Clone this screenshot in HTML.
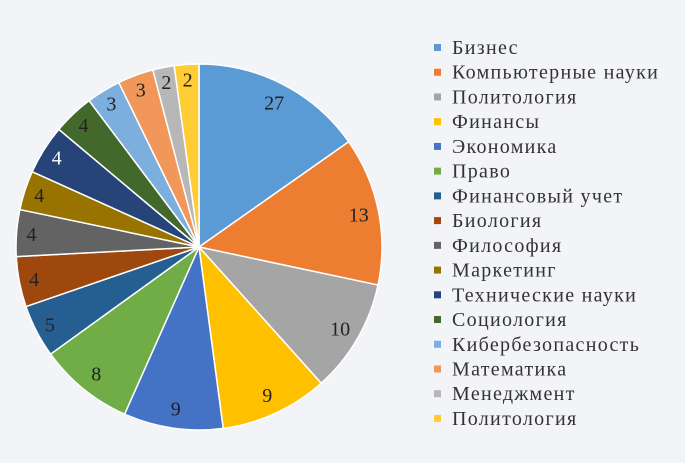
<!DOCTYPE html>
<html><head><meta charset="utf-8"><style>
body{margin:0;background:#f3f4f8;width:685px;height:458px;overflow:hidden;font-family:"Liberation Serif",serif}
</style></head><body>
<svg width="685" height="458">
<g id="pie"></g><g id="legend"></g>
</svg>
<script>
const categories=["Бизнес","Компьютерные науки","Политология","Финансы","Экономика","Право","Финансовый учет","Биология","Философия","Маркетинг","Технические науки","Социология","Кибербезопасность","Математика","Менеджмент","Политология"];
const labels=[27,13,10,9,9,8,5,4,4,4,4,4,3,3,2,2];
const values=[54.9,47.1,36.1,34.3,31.6,30.2,16.8,16,14.8,12.5,15.7,13.1,10.9,11.4,6.8,7.8];
const colors=["#5B9BD5","#ED7D31","#A5A5A5","#FFC000","#4472C4","#70AD47","#255E91","#9E480E","#636363","#997300","#264478","#43682B","#7CAFDD","#F1975A","#B7B7B7","#FFCD33"];
const NS="http://www.w3.org/2000/svg";
const cx=199,cy=247,R=183;
const pie=document.getElementById('pie'),leg=document.getElementById('legend');
const total=values.reduce((a,b)=>a+b,0);
let a0=0;
function pt(a,r){return [cx+r*Math.sin(a),cy-r*Math.cos(a)];}
values.forEach((v,i)=>{
 const a1=a0+v/total*2*Math.PI;
 const p0=pt(a0,R),p1=pt(a1,R);
 const path=document.createElementNS(NS,'path');
 path.setAttribute('d',`M${cx},${cy}L${p0[0]},${p0[1]}A${R},${R} 0 ${a1-a0>Math.PI?1:0} 1 ${p1[0]},${p1[1]}Z`);
 path.setAttribute('fill',colors[i]);path.setAttribute('stroke','#fff');path.setAttribute('stroke-width','1.5');
 
 
 pie.appendChild(path);
 const m=(a0+a1)/2;const lp=pt(m,i<6?163:168);
 const t=document.createElementNS(NS,'text');
 t.setAttribute('x',lp[0]);t.setAttribute('y',lp[1]+7);t.setAttribute('text-anchor','middle');
 t.setAttribute('font-size','20');t.setAttribute('fill',i==10?'#fff':'#222');
 t.textContent=labels[i];
 
 
 pie.appendChild(t);
 a0=a1;
});
categories.forEach((c,i)=>{
 const y=48+i*24.73;
 const r=document.createElementNS(NS,'rect');
 r.setAttribute('x',434);r.setAttribute('y',y-4);r.setAttribute('width',7);r.setAttribute('height',7);r.setAttribute('fill',colors[i]);
 
 
 leg.appendChild(r);
 const t=document.createElementNS(NS,'text');
 t.setAttribute('x',452);t.setAttribute('y',y+6);t.setAttribute('font-size','20');t.setAttribute('letter-spacing','1.3');t.setAttribute('fill','#333');
 t.textContent=c;
 
 
 leg.appendChild(t);
});
</script>
</body></html>
